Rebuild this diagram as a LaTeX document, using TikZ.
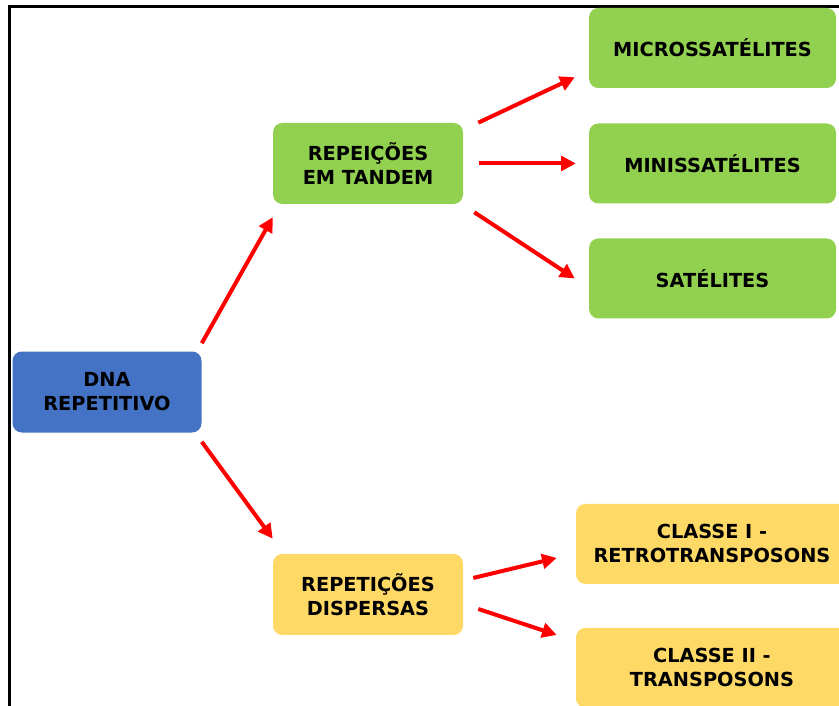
\documentclass[tikz,border=0pt]{standalone}
\usepackage{fontspec}
\setmainfont{DejaVu Sans}
\usetikzlibrary{positioning,arrows.meta}
\definecolor{dnablue}{HTML}{4472C4}
\definecolor{boxgreen}{HTML}{92D050}
\definecolor{boxyellow}{HTML}{FFD966}

\begin{document}
\begin{tikzpicture}[x=0.75pt,y=-0.75pt,on grid,>={Triangle[length=11pt,width=11pt]},
		box/.style={rectangle,rounded corners=7pt,align=center,inner sep=0pt,font=\fontsize{14.5}{18}\selectfont\bfseries},
		dnabox/.style={box,fill=dnablue,minimum width=141.75pt,minimum height=60.75pt},
		repbox/.style={box,minimum width=142.5pt,minimum height=60.75pt},
		satbox/.style={box,fill=boxgreen,minimum width=185.25pt,minimum height=60pt},
		classbox/.style={box,fill=boxyellow,minimum width=204pt,minimum height=60pt},
		link/.style={red,line width=3pt}]
		\useasboundingbox (0,0) rectangle (839,706);
		\draw[line width=2.7pt] (9.5,706) -- (9.5,6.5) -- (839,6.5);
		
		\node[dnabox]   (dna) at (107,392)                                   {DNA\\REPETITIVO};
		\node[repbox,fill=boxgreen]  (tandem)    [above right=171.4pt and 195.75pt of dna] {REPEIÇÕES\\EM TANDEM};
		\node[repbox,fill=boxyellow] (dispersas) [below=323.25pt of tandem]  {REPETIÇÕES\\DISPERSAS};
		\node[satbox]   (mini)      [right=258.4pt of tandem]                {MINISSATÉLITES};
		\node[satbox]   (micro)     [above=86.6pt of mini]                   {MICROSSATÉLITES};
		\node[satbox]   (sat)       [below=86.25pt of mini]                  {SATÉLITES};
		\node[classbox] (classe1)   [above right=37.9pt and 258pt of dispersas] {CLASSE I -\\RETROTRANSPOSONS};
		\node[classbox] (classe2)   [below=93pt of classe1]                  {CLASSE II -\\TRANSPOSONS};
		
		\path[->,link]
		([shift={(0,-8)}]dna.north east) edge ([shift={(0,13)}]tandem.south west)
		([shift={(0,9)}]dna.south east) edge ([shift={(0,-15)}]dispersas.north west)
		([shift={(15,0)}]tandem.north east) edge ([shift={(-14,-11)}]micro.south west)
		([shift={(16,0)}]tandem.east) edge ([shift={(-13,0)}]mini.west)
		([shift={(11,8)}]tandem.south east) edge ([shift={(-14,0)}]sat.west)
		([shift={(10,-16.5)}]dispersas.east) edge ([shift={(-19,14)}]classe1.west)
		([shift={(15,14.5)}]dispersas.east) edge ([shift={(-19,-33)}]classe2.west);
\end{tikzpicture}
\end{document}
